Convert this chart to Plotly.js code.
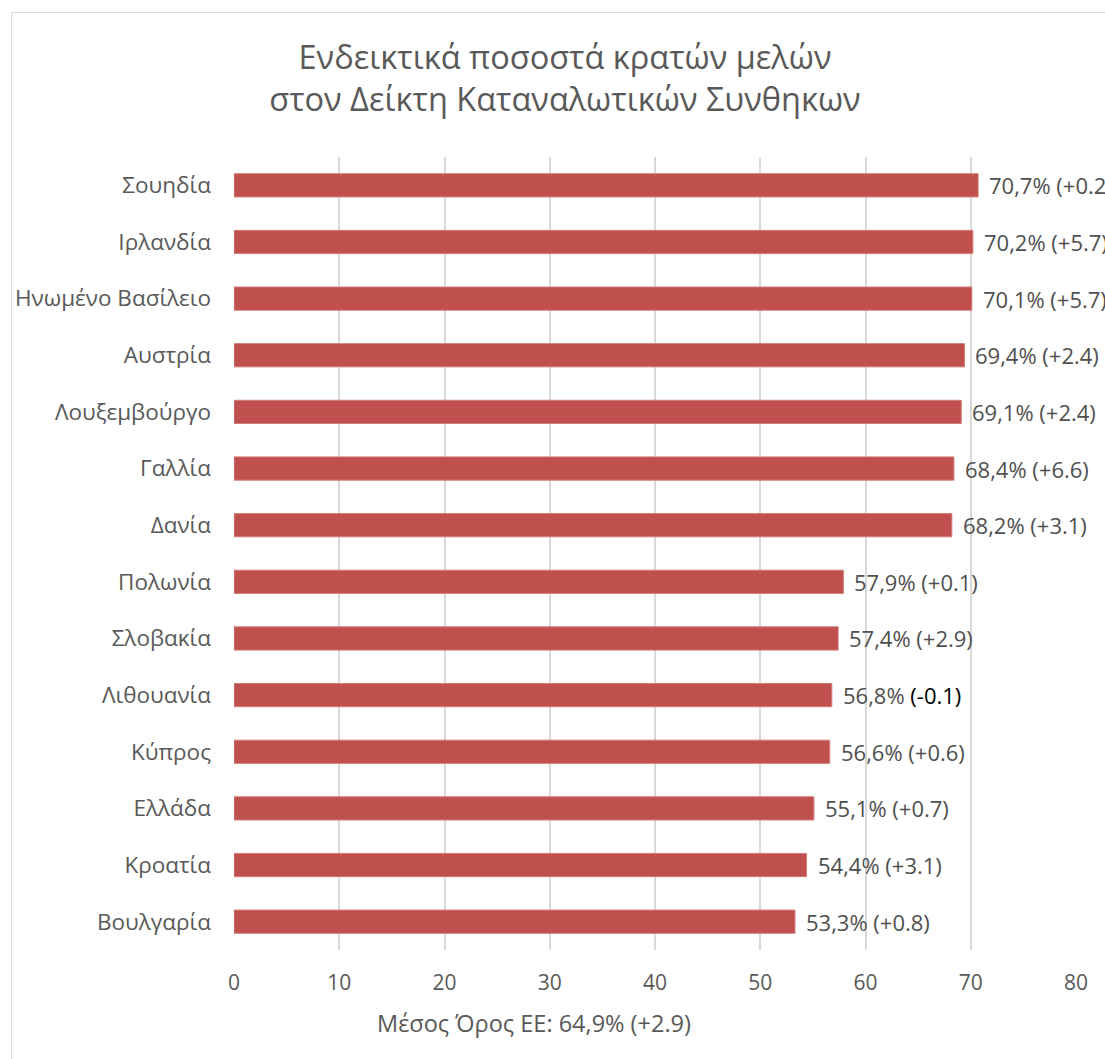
<!DOCTYPE html>
<html>
<head>
<meta charset="utf-8">
<script src="https://cdn.plot.ly/plotly-3.0.1.min.js"></script>
<style>
  html, body { margin: 0; padding: 0; background: #fff; overflow: hidden; }
  #wrap { position: relative; width: 1105px; height: 1059px; }
  #frame { position: absolute; left: 11px; top: 12px; width: 1120px; height: 1080px; border: 1px solid #d9d9d9; box-sizing: border-box; pointer-events: none; }
  #chart { position: absolute; left: 0; top: 0; width: 1105px; height: 1059px; }
</style>
</head>
<body>
<div id="wrap">
  <div id="chart"></div>
  <div id="frame"></div>
</div>
<script>
const countries = ["Σουηδία", "Ιρλανδία", "Ηνωμένο Βασίλειο", "Αυστρία", "Λουξεμβούργο", "Γαλλία", "Δανία", "Πολωνία", "Σλοβακία", "Λιθουανία", "Κύπρος", "Ελλάδα", "Κροατία", "Βουλγαρία"];
const values = [70.7, 70.2, 70.1, 69.4, 69.1, 68.4, 68.2, 57.9, 57.4, 56.8, 56.6, 55.1, 54.4, 53.3];
const changes = ["+0.2", "+5.7", "+5.7", "+2.4", "+2.4", "+6.6", "+3.1", "+0.1", "+2.9", "-0.1", "+0.6", "+0.7", "+3.1", "+0.8"];
const xTicks = [0, 10, 20, 30, 40, 50, 60, 70, 80];
const titleText = "Ενδεικτικά ποσοστά κρατών μελών<br>στον Δείκτη Καταναλωτικών Συνθηκων";
const footText = "Μέσος Όρος ΕΕ: 64,9% (+2.9)";

const FONT = "'Open Sans', 'Noto Sans', sans-serif";
const GRAY = "#595959";

const fmt = v => v.toFixed(1).replace(".", ",") + "%";

const annotations = values.map((v, i) => {
  const ch = changes[i];
  const chPart = ch.startsWith("-") ? `<span style="color:#000000">(${ch})</span>` : `(${ch})`;
  return {
    x: v, y: countries[i], xref: "x", yref: "y",
    text: fmt(v) + " " + chPart,
    showarrow: false, xanchor: "left", yanchor: "middle", xshift: 9,
    font: { family: FONT, size: 22, color: "#505050" }
  };
});
annotations.push({
  x: (534 - 234) / 842, y: -(1023 - 950) / 793, xref: "paper", yref: "paper",
  text: footText, showarrow: false, xanchor: "center", yanchor: "middle",
  font: { family: FONT, size: 23.5, color: GRAY }
});

const trace = {
  type: "bar", orientation: "h",
  x: values, y: countries,
  marker: { color: "#c0504d", line: { color: "#d27b78", width: 1 } },
  hoverinfo: "x+y"
};

const layout = {
  width: 1105, height: 1059,
  paper_bgcolor: "#ffffff", plot_bgcolor: "#ffffff",
  margin: { l: 234, r: 29, t: 157, b: 109 },
  showlegend: false,
  bargap: 0.59,
  title: {
    text: titleText,
    font: { family: FONT, size: 32.5, color: GRAY },
    xref: "paper", x: (565 - 234) / 842, xanchor: "center",
    yref: "container", y: 1 - 69 / 1059, yanchor: "middle"
  },
  xaxis: {
    range: [0, 80], tickvals: xTicks, ticktext: xTicks.map(String),
    showgrid: true, gridcolor: "#d9d9d9", gridwidth: 2,
    zeroline: false, showline: false, ticks: "",
    ticklabelstandoff: 18,
    tickfont: { family: FONT, size: 21, color: GRAY },
    fixedrange: true
  },
  yaxis: {
    type: "category", autorange: "reversed",
    showgrid: false, zeroline: false, showline: false, ticks: "",
    ticklabelstandoff: 22,
    tickfont: { family: FONT, size: 22.5, color: GRAY },
    fixedrange: true
  },
  annotations: annotations
};

Plotly.newPlot("chart", [trace], layout, { displayModeBar: false, staticPlot: true });
</script>
</body>
</html>
